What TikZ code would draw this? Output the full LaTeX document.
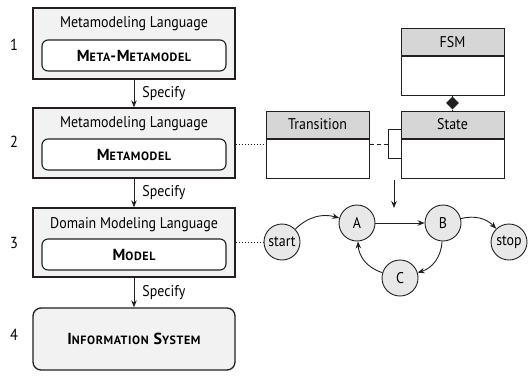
\documentclass[tikz,border=0pt]{standalone}
\usepackage{fontspec}
\setmainfont{PT Sans}[FakeStretch=0.9]
\newfontfamily\scfont{PT Sans}[LetterSpace=5]
\usetikzlibrary{arrows.meta,shapes.geometric}
\definecolor{boxfill}{HTML}{F2F2F2}
\definecolor{headfill}{HTML}{D6D6D6}
\definecolor{circfill}{HTML}{E8E8E8}
\definecolor{ink}{HTML}{231F20}
\newcommand{\fakesc}[2]{#1{\fontsize{12}{12}\selectfont #2}}
\tikzset{
  layer/.style={draw=ink,line width=1.3pt,fill=boxfill,inner sep=0pt},
  inner/.style={draw=ink,line width=1.1pt,fill=white,rounded corners=6pt,inner sep=0pt,minimum width=184pt,minimum height=31pt,font=\scfont\fontsize{16}{16}\selectfont\bfseries},
  lbl/.style={font=\fontsize{15.5}{16}\selectfont,inner sep=0pt},
  num/.style={font=\fontsize{16}{16}\selectfont,inner sep=0pt},
  spec/.style={font=\fontsize{15.5}{16}\selectfont,inner sep=0pt,anchor=west},
  arr/.style={draw=ink,line width=0.9pt,-{Stealth[length=7pt,width=5.5pt]}},
  head/.style={draw=ink,line width=1pt,fill=headfill,minimum width=103pt,minimum height=27pt,inner sep=0pt,font=\fontsize{15.5}{16}\selectfont},
  body/.style={draw=ink,line width=1pt,fill=white,minimum width=103pt,inner sep=0pt},
  st/.style={circle,draw=ink,line width=0.9pt,fill=circfill,minimum size=36pt,inner sep=0pt,font=\fontsize{15.5}{16}\selectfont},
}
\begin{document}
\begin{tikzpicture}[x=1pt,y=-1pt]
\useasboundingbox (0,0) rectangle (530,376);
% layers
\node[layer,minimum width=202pt,minimum height=71pt] (b1) at (134,43.5) {};
\node[lbl] (l1) at (134,24) {Metamodeling Language};
\node[inner] (m1) at (134,55.5) {\fakesc{M}{ETA}-\fakesc{M}{ETAMODEL}};
\node[num] (n1) at (14,45) {1};

\node[layer,minimum width=202pt,minimum height=70pt] (b2) at (134,143) {};
\node[lbl] (l2) at (134,124) {Metamodeling Language};
\node[inner] (m2) at (134,154.5) {\fakesc{M}{ETAMODEL}};
\node[num] (n2) at (14,142) {2};

\node[layer,minimum width=202pt,minimum height=69pt] (b3) at (134,242.5) {};
\node[lbl] (l3) at (134,225) {Domain Modeling Language};
\node[inner] (m3) at (134,254.5) {\fakesc{M}{ODEL}};
\node[num] (n3) at (14,243) {3};

\node[layer,rounded corners=8pt,minimum width=202pt,minimum height=62pt,font=\scfont\fontsize{16}{16}\selectfont\bfseries] (b4) at (134,339) {\fakesc{I}{NFORMATION} \fakesc{S}{YSTEM}};
\node[num] (n4) at (14,335) {4};

\draw[arr] (b1.south) -- node[spec,right=8pt] (s1) {Specify} (b2.north);
\draw[arr] (b2.south) -- node[spec,right=8pt] (s2) {Specify} (b3.north);
\draw[arr] (b3.south) -- node[spec,right=8pt] (s3) {Specify} (b4.north);

% UML classes
\node[head] (fsmh) at (452.5,42) {FSM};
\node[body,minimum height=39pt,anchor=north] (fsmb) at (fsmh.south) {};
\node[head] (trh) at (317.5,124.5) {Transition};
\node[body,minimum height=39pt,anchor=north] (trb) at (trh.south) {};
\node[head] (sth) at (452.5,124.5) {State};
\node[body,minimum height=39pt,anchor=north] (stb) at (sth.south) {};
\node[diamond,fill=ink,inner sep=0pt,minimum width=13pt,minimum height=13pt] (dm) at (452.5,103) {};
\draw[ink,line width=1pt] (fsmb.south) -- (dm.north);
\draw[ink,line width=1pt] (dm.south) -- (sth.north);
% self association on State
\coordinate (k1) at (388,129);
\coordinate (k2) at (388,158);
\coordinate (y144) at (0,144);
\draw[ink,line width=1pt] (sth.west |- k1) -- (k1) -- (k2) -- (stb.west |- k2);
\draw[ink,line width=1pt,dash pattern=on 4pt off 3pt] (trb.east |- y144) -- (k1 |- y144);
\draw[ink,line width=1pt,dotted] (b2.east |- y144) -- (trb.west |- y144);

% state machine
\node[st] (start) at (282,242) {start};
\node[st] (A) at (357,223) {A};
\node[st] (B) at (443,223) {B};
\node[st] (C) at (400,278) {C};
\node[st] (stop) at (509,242) {stop};
\draw[ink,line width=1pt,dotted] (b3.east |- start.west) -- (start.west);
\coordinate (ia) at (394,180);
\coordinate (ib) at (394,208);
\draw[arr] (ia) -- (ib);
\draw[arr] (start) to[bend left=30] (A);
\draw[arr] (A) -- (B);
\draw[arr] (B) to[bend left=30] (stop);
\draw[arr] (B) to[bend left=35] (C);
\draw[arr] (C) to[bend left=35] (A);
\end{tikzpicture}
\end{document}
